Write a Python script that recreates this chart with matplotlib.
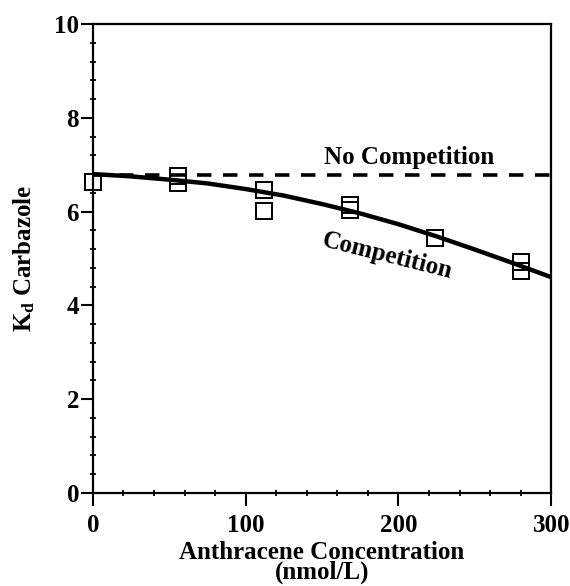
import matplotlib
matplotlib.use('Agg')
import matplotlib.pyplot as plt
from matplotlib.ticker import MultipleLocator

plt.rcParams['font.family'] = ['Liberation Serif', 'DejaVu Serif']
plt.rcParams['font.weight'] = 'bold'
plt.rcParams['mathtext.fontset'] = 'custom'
plt.rcParams['mathtext.bf'] = 'Liberation Serif:bold'
plt.rcParams['mathtext.rm'] = 'Liberation Serif:bold'

# measured Kd values (open squares)
conc = [0, 56, 56, 112, 112, 168, 168, 224, 280, 280]
kd = [6.63, 6.75, 6.60, 6.47, 6.02, 6.13, 6.03, 5.43, 4.93, 4.74]

# model curves
curve_x = [0, 25, 50, 75, 100, 125, 150, 175, 200, 225, 250, 275, 300]
curve_comp = [6.80, 6.75, 6.68, 6.60, 6.48, 6.34, 6.16, 5.96, 5.73, 5.47, 5.19, 4.90, 4.60]
no_comp_x = [0, 300]
no_comp = [6.77, 6.77]

fig = plt.figure(figsize=(5.7, 5.86), dpi=100)
ax = fig.add_axes([0.163, 0.159, 0.804, 0.8])

ax.plot(no_comp_x, no_comp, color='black', lw=2.6, ls=(0, (4, 3.2)))
ax.plot(curve_x, curve_comp, color='black', lw=3.2, solid_capstyle='butt')
ax.plot(conc, kd, ls='none', marker='s', ms=11, mfc='none', mec='black', mew=1.4, clip_on=False)

ax.text(207, 7.15, 'No Competition', ha='center', va='center', fontsize=18, fontweight='bold')
ax.text(193, 5.05, 'Competition', ha='center', va='center', fontsize=18, fontweight='bold', rotation=-14)

ax.set_xlim(0, 300)
ax.set_ylim(0, 10)
ax.xaxis.set_major_locator(MultipleLocator(100))
ax.xaxis.set_minor_locator(MultipleLocator(20))
ax.yaxis.set_major_locator(MultipleLocator(2))
ax.yaxis.set_minor_locator(MultipleLocator(0.4))
ax.tick_params(which='major', direction='out', length=9, width=1.5, labelsize=18)
ax.tick_params(which='minor', direction='inout', length=5, width=1.3)
ax.tick_params(axis='x', which='major', pad=6)
ax.tick_params(axis='y', which='major', pad=1)
ax.tick_params(top=False, right=False)
for lbl in ax.get_xticklabels() + ax.get_yticklabels():
    lbl.set_fontweight('bold')
for s in ax.spines.values():
    s.set_linewidth(1.6)

ax.set_xlabel('Anthracene Concentration\n(nmol/L)', fontsize=18, fontweight='bold', labelpad=3, linespacing=0.8)
ax.set_ylabel(r'$\mathbf{K_d}$ Carbazole', fontsize=18, fontweight='bold', labelpad=12)

fig.savefig('out.png', dpi=100)
